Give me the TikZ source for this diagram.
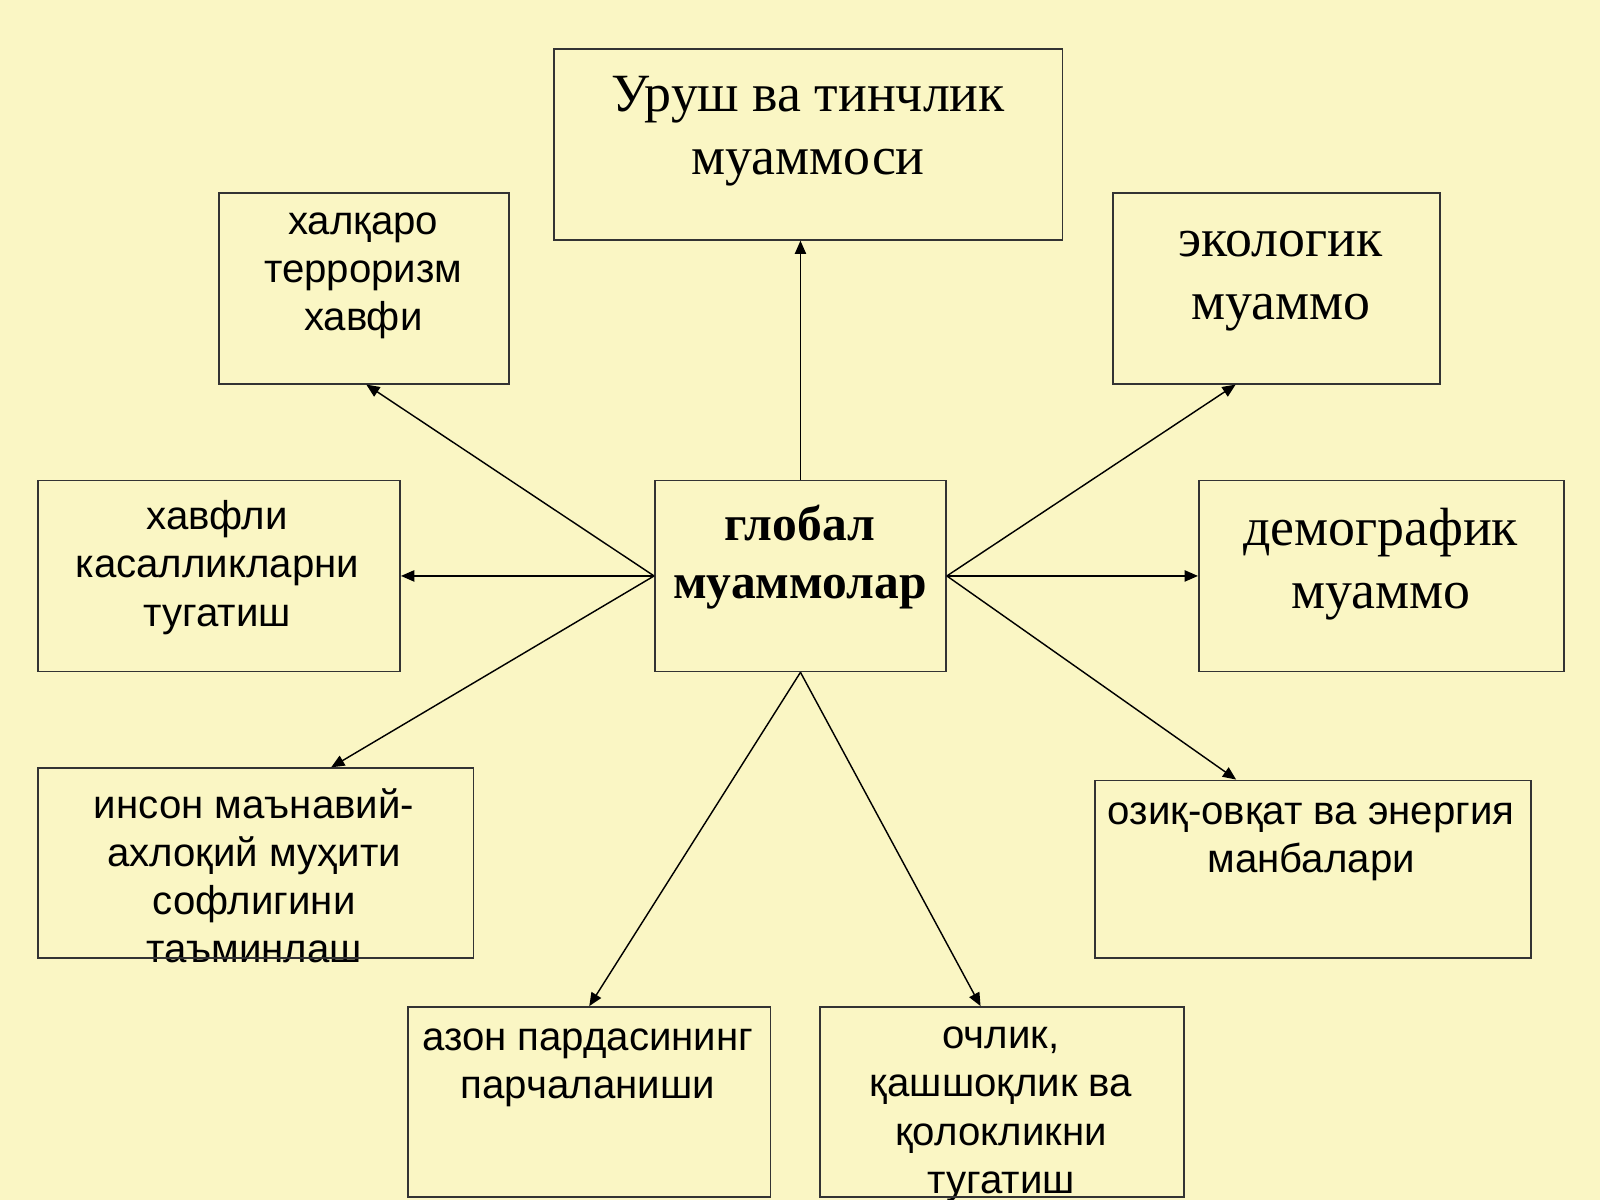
\documentclass[tikz,border=0pt]{standalone}
\usepackage{fontspec}
\setmainfont{Liberation Serif}
\setsansfont{Liberation Sans}
\usetikzlibrary{arrows.meta}
\definecolor{paper}{HTML}{FAF6C4}
\begin{document}
\begin{tikzpicture}[x=0.01cm,y=-0.01cm,>={Triangle[length=1.3mm,width=1.1mm]},
    box/.style={draw=black!80,line width=0.5pt,inner sep=0,anchor=north west},
    txt/.style={anchor=north,inner sep=0,align=center},
    sans/.style={txt,font=\sffamily\fontsize{11.2}{13.4}\selectfont},
    serif/.style={txt,font=\fontsize{15}{17.6}\selectfont}]
    \fill[paper] (0,0) rectangle (1568,1176);
    \useasboundingbox (0,0) rectangle (1568,1176);

    % texts
    \node[serif] (tWar)  at (792,74)  {Уруш ва тинчлик\\муаммоси};
    \node[sans]  (tTer)  at (356,208) {халқаро\\терроризм\\хавфи};
    \node[serif] (tEco)  at (1255,226) {экологик\\муаммо};
    \node[sans]  (tDis)  at (213,490) {хавфли\\касалликларни\\тугатиш};
    \node[txt,font=\bfseries\fontsize{13.8}{16.3}\selectfont] (tGlob) at (784,494) {глобал\\муаммолар};
    \node[serif] (tDem)  at (1353,497) {демографик\\муаммо};
    \node[sans]  (tMor)  at (249,772) {инсон маънавий-\\ахлоқий муҳити\\софлигини\\таъминлаш};
    \node[sans]  (tFood) at (1285,786) {озиқ-овқат ва энергия\\манбалари};
    \node[sans]  (tOzon) at (576,1008) {азон пардасининг\\парчаланиши};
    \node[sans]  (tHung) at (981,1006) {очлик,\\қашшоқлик ва\\қолокликни\\тугатиш};

    % boxes
    \node[box,minimum width=4.98cm,minimum height=1.87cm] (war)  at (542,47)  {};
    \node[box,minimum width=2.84cm,minimum height=1.87cm] (ter)  at (214,188) {};
    \node[box,minimum width=3.20cm,minimum height=1.87cm] (eco)  at (1090,188) {};
    \node[box,minimum width=3.55cm,minimum height=1.87cm] (dis)  at (36,470)  {};
    \node[box,minimum width=2.85cm,minimum height=1.87cm] (glob) at (641,470) {};
    \node[box,minimum width=3.58cm,minimum height=1.87cm] (dem)  at (1174,470) {};
    \node[box,minimum width=4.27cm,minimum height=1.86cm] (mor)  at (36,752)  {};
    \node[box,minimum width=4.27cm,minimum height=1.74cm] (food) at (1072,764) {};
    \node[box,minimum width=3.55cm,minimum height=1.86cm] (ozon) at (399,986) {};
    \node[box,minimum width=3.56cm,minimum height=1.86cm] (hung) at (803,986) {};

    % arrows
    \draw[->] (glob.north) -- (war.south -| glob.north);
    \draw[->] (glob.west) -- ([xshift=0.02cm]ter.south);
    \draw[->] (glob.west) -- (dis.east);
    \draw[->] (glob.west) -- ([xshift=0.74cm]mor.north);
    \draw[->] (glob.south) -- (ozon.north);
    \draw[->] (glob.south) -- ([xshift=-0.21cm]hung.north);
    \draw[->] (glob.east) -- (dem.west);
    \draw[->] (glob.east) -- ([xshift=-0.40cm]eco.south);
    \draw[->] (glob.east) -- ([xshift=-0.75cm]food.north);
\end{tikzpicture}
\end{document}
